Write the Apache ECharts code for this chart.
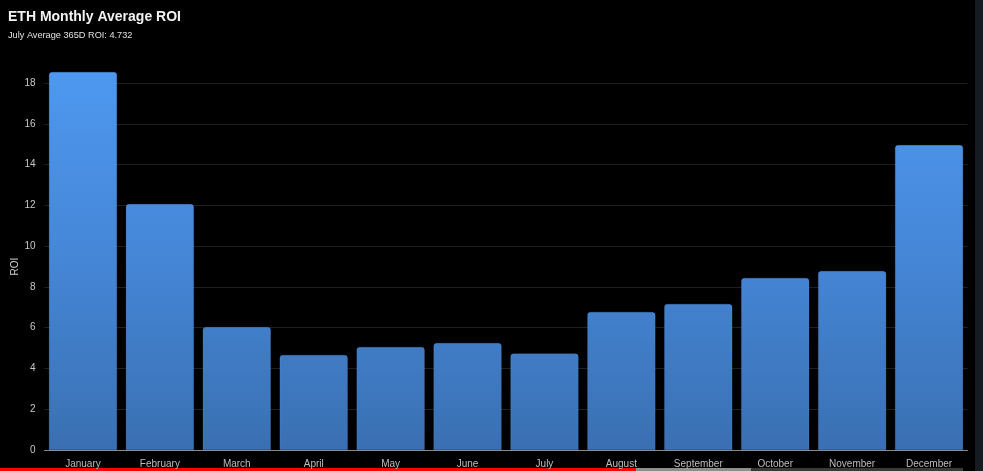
<!DOCTYPE html>
<html>
<head>
<meta charset="utf-8">
<script src="https://cdn.jsdelivr.net/npm/echarts@6/dist/echarts.min.js"></script>
<style>
html,body{margin:0;padding:0;background:#000;}
#chart{width:983px;height:471px;}
</style>
</head>
<body>
<div id="chart"></div>
<script>
var titleText = 'ETH Monthly Average ROI';
var subtitleText = 'July Average 365D ROI: 4.732';
var yAxisName = 'ROI';
var months = ['January','February','March','April','May','June','July','August','September','October','November','December'];
var roiValues = [18.54, 12.06, 6.03, 4.66, 5.05, 5.25, 4.732, 6.77, 7.16, 8.44, 8.78, 14.96];
var yMin = 0;
var yMax = 18;
var yInterval = 2;

var chart = echarts.init(document.getElementById('chart'), null, {renderer:'canvas'});
var fontFam = '"Liberation Sans", Arial, Helvetica, sans-serif';
chart.setOption({
  backgroundColor: '#000000',
  animation: false,
  title: {
    text: titleText,
    subtext: subtitleText,
    left: 3,
    top: 5,
    itemGap: 7,
    textStyle: {color:'#f2f2f2', fontSize:14, fontWeight:'bold', fontFamily:fontFam},
    subtextStyle: {color:'#e0e0e0', fontSize:9.2, fontFamily:fontFam}
  },
  grid: {left:44.5, right:15.5, top:83, bottom:21, containLabel:false, outerBoundsMode:'none'},
  xAxis: {
    type:'category',
    data: months,
    axisLine: {show:true, lineStyle:{color:'#8a8a8a', width:1}},
    axisTick: {show:false},
    axisLabel: {color:'#bdbdbd', fontSize:10, fontFamily:fontFam, margin:9, interval:0},
    splitLine: {show:false}
  },
  yAxis: {
    type:'value',
    min: yMin,
    max: yMax,
    interval: yInterval,
    name: yAxisName,
    nameLocation: 'middle',
    nameGap: 24,
    nameRotate: 90,
    nameMoveOverlap: false,
    nameTextStyle: {color:'#d0d0d0', fontSize:10, fontFamily:fontFam},
    axisLine: {show:false},
    axisTick: {show:false},
    axisLabel: {color:'#c8c8c8', fontSize:10, fontFamily:fontFam, margin:9},
    splitLine: {show:true, lineStyle:{color:'#1f1f1f', width:1}}
  },
  series: [{
    type:'bar',
    data: roiValues,
    clip: false,
    barCategoryGap: '11.5%',
    itemStyle: {
      borderRadius: [3,3,0,0],
      borderColor: 'rgba(120,170,240,0.35)',
      borderWidth: 0.5,
      color: new echarts.graphic.LinearGradient(0, 72, 0, 450, [
        {offset:0, color:'#4e98f0'},
        {offset:0.5, color:'#4586d6'},
        {offset:1, color:'#3a70b2'}
      ], true)
    }
  }],
  graphic: [
    {type:'rect', shape:{x:975, y:0, width:8, height:471}, style:{fill:'#161b22'}, silent:true},
    {type:'rect', shape:{x:0, y:468, width:636, height:3}, style:{fill:'#ff0000'}, silent:true},
    {type:'rect', shape:{x:636, y:468, width:115, height:3}, style:{fill:'#8e8e8e'}, silent:true},
    {type:'rect', shape:{x:751, y:468, width:212, height:3}, style:{fill:'#3a3a3a'}, silent:true}
  ]
});
</script>
</body>
</html>
